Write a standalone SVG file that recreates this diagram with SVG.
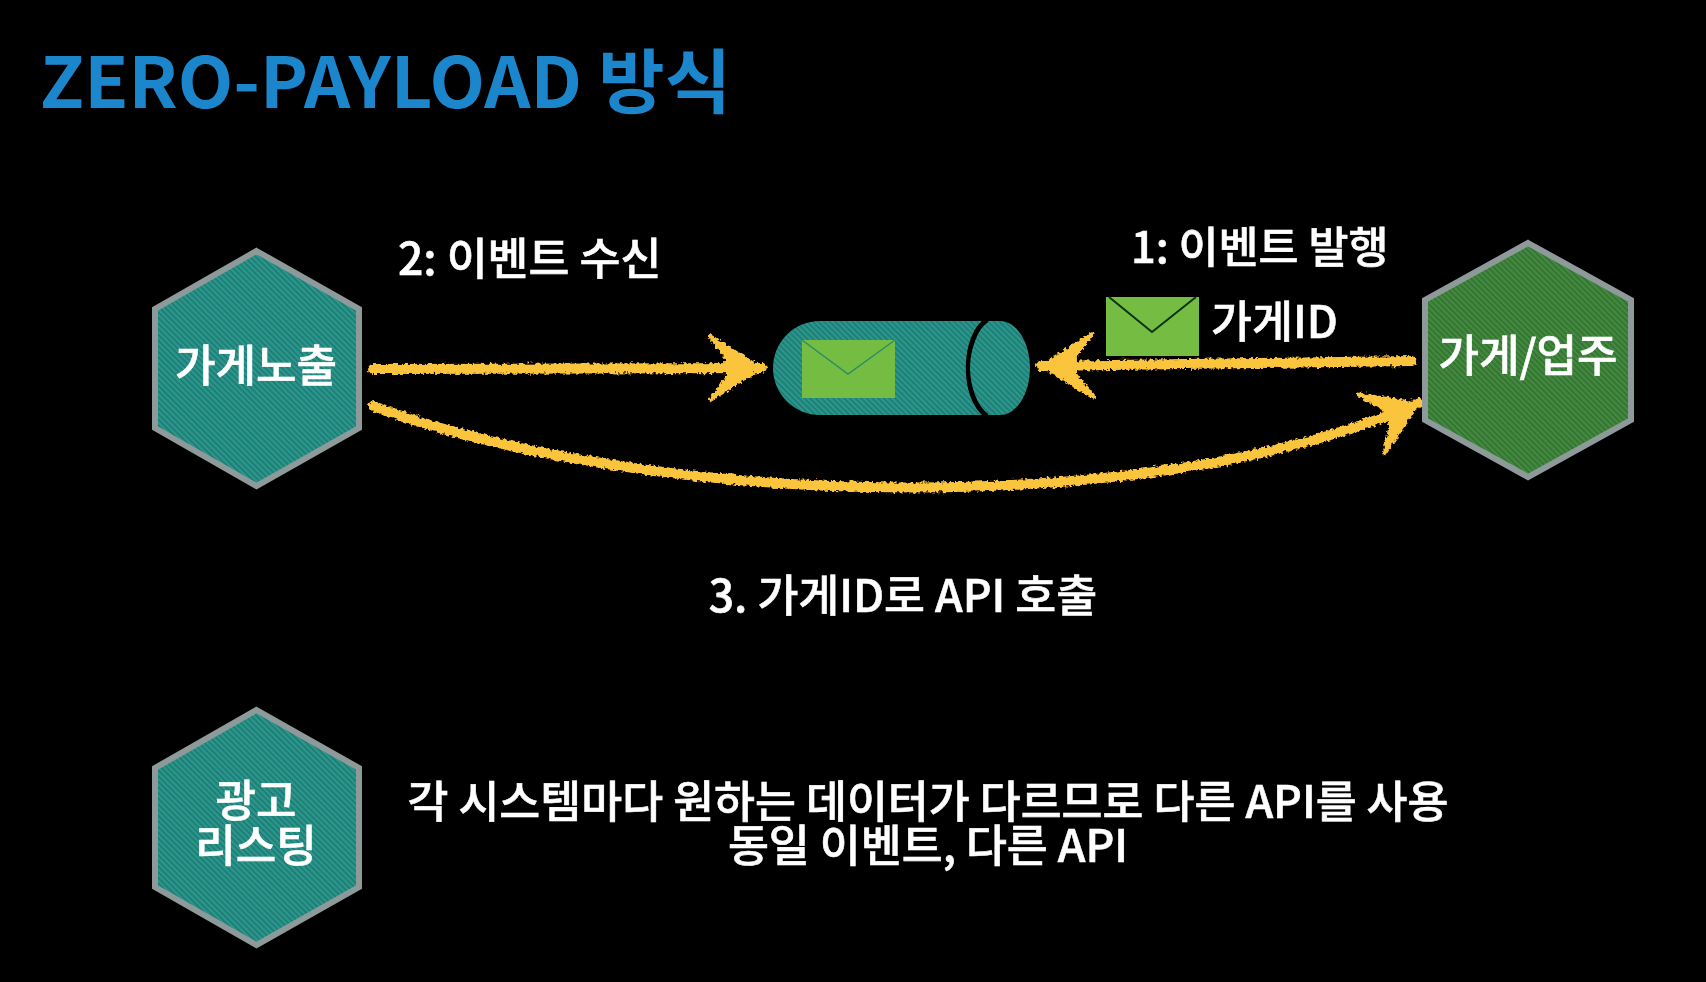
<svg xmlns="http://www.w3.org/2000/svg" width="1706" height="982" viewBox="0 0 1706 982">
<defs>
<pattern id="teal" width="4" height="4" patternUnits="userSpaceOnUse" patternTransform="rotate(45)"><rect width="4" height="4" fill="#2c978d"/><rect width="4" height="1.5" fill="#1d7770"/></pattern>
<pattern id="green" width="4" height="4" patternUnits="userSpaceOnUse" patternTransform="rotate(45)"><rect width="4" height="4" fill="#44893f"/><rect width="4" height="1.5" fill="#2f7030"/></pattern>
<filter id="chalk" x="-5%" y="-30%" width="110%" height="160%"><feTurbulence type="fractalNoise" baseFrequency="0.3" numOctaves="2" seed="4"/><feDisplacementMap in="SourceGraphic" scale="6" xChannelSelector="R" yChannelSelector="G"/></filter>
<filter id="soft" x="-5%" y="-5%" width="110%" height="110%"><feGaussianBlur stdDeviation="0.7"/></filter>
<marker id="head" markerUnits="userSpaceOnUse" markerWidth="76" markerHeight="84" refX="58" refY="37" orient="auto"><path d="M56 37L6 5L24 28L24 46L6 69Z" fill="#fbc43c" stroke="#fbc43c" stroke-width="4" stroke-linejoin="round"/></marker>
</defs>
<style>
.t{font-family:"Noto Sans CJK KR","Noto Sans",sans-serif;font-weight:500;fill:#fff;font-size:44.5px;stroke:#fff;stroke-width:.6}
.c{text-anchor:middle}
.h{font-size:44px}
.hex{stroke:#8e9a9a;stroke-width:6;stroke-linejoin:miter}
.arr{fill:none;stroke:#fbc43c;stroke-width:10;stroke-linecap:round}
.env{fill:#74bd43}
</style>
<rect width="1706" height="982" fill="#000"/>
<text id="title" x="40" y="108" font-family="'Noto Sans CJK KR','Noto Sans',sans-serif" font-weight="700" font-size="70" fill="#1f86cc" textLength="691" lengthAdjust="spacingAndGlyphs" filter="url(#soft)">ZERO-PAYLOAD 방식</text>
<g id="connectors" filter="url(#chalk)">
<path class="arr" d="M373 369L762 368" marker-end="url(#head)"/>
<path class="arr" d="M1412 361L1041 366" marker-end="url(#head)"/>
<path class="arr" d="M373 406C640 505 1140 525 1419 403" marker-end="url(#head)"/>
</g>
<g id="node-expose" filter="url(#soft)">
<polygon class="hex" fill="url(#teal)" points="256.5,251 359,309 359,428 256.5,486 155,428 155,309"/>
<text class="t c h" x="256" y="382">가게노출</text>
</g>
<g id="node-store" filter="url(#soft)">
<polygon class="hex" fill="url(#green)" points="1528,243 1631,300 1631,420 1528,477 1425,420 1425,300"/>
<text class="t c h" x="1528" y="372">가게/업주</text>
</g>
<g id="node-ad" filter="url(#soft)">
<polygon class="hex" fill="url(#teal)" points="256.5,710 359,768 359,887 256.5,945 155,887 155,768"/>
<text class="t c h"><tspan x="256" y="817">광고</tspan><tspan x="256" y="862">리스팅</tspan></text>
</g>
<g id="node-queue" filter="url(#soft)">
<path fill="url(#teal)" d="M820 321H1000V415H820A47 47 0 0 1 773 368A47 47 0 0 1 820 321Z"/>
<path d="M987 320C963 335 961 398 987 416" fill="none" stroke="#000" stroke-width="5"/>
<ellipse cx="1000" cy="368" rx="30" ry="47" fill="url(#teal)"/>
<rect class="env" x="802" y="340" width="93" height="58"/>
<path d="M802 340L848 374L895 340" fill="none" stroke="#2a8f68" stroke-width="1.5"/>
</g>
<g id="envelope" filter="url(#soft)">
<rect class="env" x="1106" y="297" width="93" height="59"/>
<path d="M1109 297L1152 332L1196 297" fill="none" stroke="#0c3312" stroke-width="2"/>
</g>
<g id="labels" filter="url(#soft)">
<text class="t" x="398" y="275">2: 이벤트 수신</text>
<text class="t" x="1131" y="263" style="font-size:43.5px">1: 이벤트 발행</text>
<text class="t" x="1211" y="338">가게ID</text>
<text class="t c" x="903" y="612">3. 가게ID로 API 호출</text>
<text class="t c"><tspan x="928" y="818">각 시스템마다 원하는 데이터가 다르므로 다른 API를 사용</tspan><tspan x="928" y="862">동일 이벤트, 다른 API</tspan></text>
</g>
</svg>
